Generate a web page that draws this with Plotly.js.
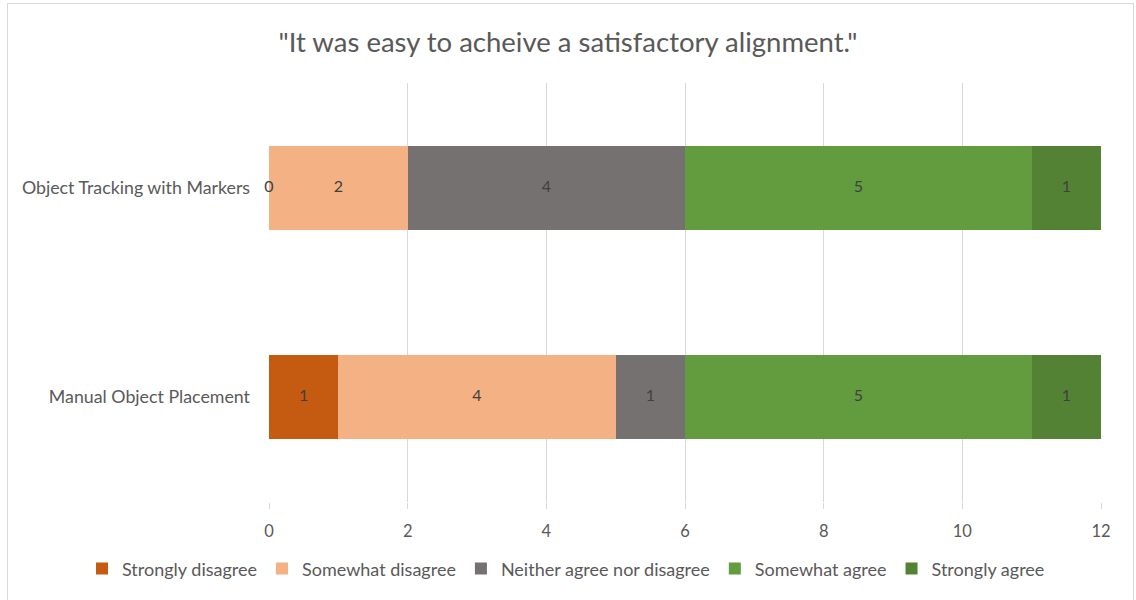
<!DOCTYPE html>
<html>
<head>
<meta charset="utf-8">
<script src="https://cdn.plot.ly/plotly-3.0.1.min.js"></script>
<style>
html,body{margin:0;padding:0;background:#fff;}
#chart{position:absolute;left:0;top:0;width:1136px;height:600px;}
#frame{position:absolute;left:7px;top:3px;width:1125px;height:620px;border:1px solid #d9d9d9;pointer-events:none;}
</style>
</head>
<body>
<div id="chart"></div>
<div id="frame"></div>
<script>
const categories = ["Manual Object Placement", "Object Tracking with Markers"];
const seriesNames = ["Strongly disagree", "Somewhat disagree", "Neither agree nor disagree", "Somewhat agree", "Strongly agree"];
const stronglyDisagree = [1, 0];
const somewhatDisagree = [4, 2];
const neither = [1, 4];
const somewhatAgree = [5, 5];
const stronglyAgree = [1, 1];
const xTicks = [0, 2, 4, 6, 8, 10, 12];

const seriesValues = [stronglyDisagree, somewhatDisagree, neither, somewhatAgree, stronglyAgree];
const colors = ["#C55A11", "#F4B183", "#767171", "#629C3F", "#548235"];
const FONT = "Lato, 'Open Sans', sans-serif";

const traces = seriesValues.map((vals, i) => ({
  type: "bar",
  orientation: "h",
  name: seriesNames[i],
  y: categories,
  x: vals,
  marker: {color: colors[i], line: {width: 0}},
  hoverinfo: "x+name"
}));

// data labels centered on each segment, derived from data
const lx = [], ly = [], lt = [];
const cum = categories.map(() => 0);
seriesValues.forEach(vals => {
  vals.forEach((v, j) => {
    lx.push(cum[j] + v / 2);
    ly.push(categories[j]);
    lt.push(String(v));
    cum[j] += v;
  });
});
traces.push({
  type: "scatter",
  mode: "text",
  x: lx, y: ly, text: lt,
  textposition: "middle center",
  textfont: {family: FONT, size: 16, color: "#404040"},
  showlegend: false,
  hoverinfo: "skip",
  cliponaxis: false
});

const T = 82.5, B = 94.5, H = 600 - T - B;
const layout = {
  width: 1136, height: 600,
  paper_bgcolor: "#fff", plot_bgcolor: "#fff",
  margin: {l: 269, r: 35, t: T, b: B},
  font: {family: FONT, color: "#595959"},
  title: {
    text: "\"It was easy to acheive a satisfactory alignment.\"",
    font: {family: FONT, size: 27.5, color: "#595959"},
    x: 0.5, xref: "container", xanchor: "center",
    y: 1 - 42 / 600, yref: "container", yanchor: "middle"
  },
  barmode: "stack",
  bargap: 0.6,
  xaxis: {
    range: [0, 12],
    tickvals: xTicks,
    ticktext: xTicks.map(String),
    showgrid: true, gridcolor: "#d9d9d9", gridwidth: 1,
    zeroline: false, showline: false,
    ticks: "outside", ticklen: 6, tickcolor: "#d9d9d9",
    ticklabelstandoff: 8,
    tickfont: {family: FONT, size: 16.5, color: "#595959"},
    fixedrange: true
  },
  yaxis: {
    type: "category",
    categoryorder: "array", categoryarray: categories,
    showgrid: false, zeroline: false, showline: false,
    ticks: "",
    ticklabelstandoff: 18,
    tickfont: {family: FONT, size: 17.8, color: "#595959"},
    fixedrange: true
  },
  showlegend: true,
  legend: {
    orientation: "h",
    x: (82 - 269) / 832, xref: "paper", xanchor: "left",
    y: -(573 - (600 - B)) / H, yref: "paper", yanchor: "middle",
    font: {family: FONT, size: 18, color: "#595959"},
    traceorder: "normal",
    itemwidth: 30
  },
  hovermode: false
};

Plotly.newPlot("chart", traces, layout, {displayModeBar: false, staticPlot: true});
</script>
</body>
</html>
